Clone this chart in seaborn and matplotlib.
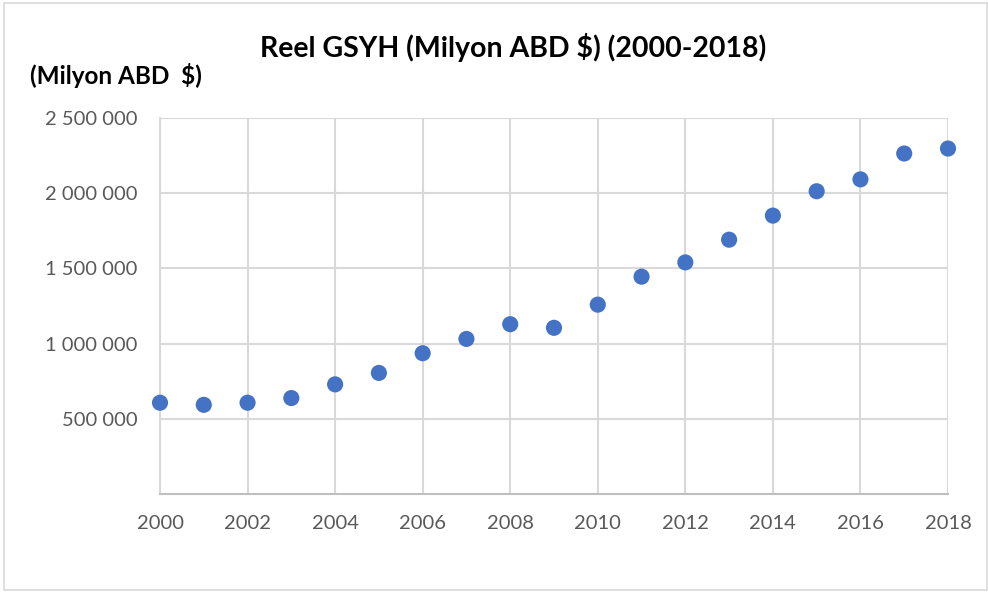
import numpy as np
import pandas as pd
import seaborn as sns
import matplotlib.pyplot as plt
from matplotlib.ticker import FuncFormatter
from matplotlib.patches import Rectangle

# Reel GSYH (Milyon ABD $)
years = [2000, 2001, 2002, 2003, 2004, 2005, 2006, 2007, 2008, 2009,
         2010, 2011, 2012, 2013, 2014, 2015, 2016, 2017, 2018]
gdp = [607000, 593000, 607000, 638000, 729000, 805000, 936000, 1031000, 1129000, 1105000,
       1259000, 1445000, 1540000, 1691000, 1851000, 2013000, 2092000, 2264000, 2297000]
y_ticks = [500000, 1000000, 1500000, 2000000, 2500000]
x_ticks = list(range(2000, 2019, 2))

df = pd.DataFrame({"year": years, "gdp": gdp})

sns.set_style("white")
plt.rcParams['font.family'] = ['Lato', 'DejaVu Sans']

fig = plt.figure(figsize=(9.88, 5.94), dpi=100)
W, H = 988, 594
ax = fig.add_axes([160 / W, 1 - 494 / H, 788 / W, 376 / H])

sns.scatterplot(data=df, x="year", y="gdp", ax=ax, color="#4472C4",
                s=135, edgecolor="none", zorder=3, clip_on=False)

ax.set_xlim(2000, 2018)
ax.set_ylim(0, 2500000)
ax.set_xticks(x_ticks)
ax.set_yticks(y_ticks)
ax.yaxis.set_major_formatter(FuncFormatter(lambda v, p: f"{int(v):,}".replace(",", " ")))
ax.grid(True, color="#D9D9D9", linewidth=1.5, zorder=0)
ax.set_axisbelow(True)

for side in ["top", "right"]:
    ax.spines[side].set_visible(False)
ax.spines["left"].set_color("#D9D9D9")
ax.spines["left"].set_linewidth(1.5)
ax.spines["bottom"].set_color("#BFBFBF")
ax.spines["bottom"].set_linewidth(1.5)

ax.tick_params(axis="both", length=0, labelsize=14.5, labelcolor="#595959")
ax.tick_params(axis="x", pad=15)
ax.tick_params(axis="y", pad=16)
ax.set_xlabel("")
ax.set_ylabel("")

fig.text(513 / W, 1 - 48 / H, "Reel GSYH (Milyon ABD $) (2000-2018)",
         ha="center", va="center", fontsize=20.5, fontweight="bold", color="black")
fig.text(30 / W, 1 - 75 / H, "(Milyon ABD  $)", ha="left", va="center",
         fontsize=17.5, fontweight="bold", color="black")

# chart area border
fig.patches.append(Rectangle((4 / W, 1 - 590 / H), 983 / W, 587 / H,
                             transform=fig.transFigure, fill=False,
                             edgecolor="#D9D9D9", linewidth=1.2))

fig.savefig("out.png", dpi=100)
